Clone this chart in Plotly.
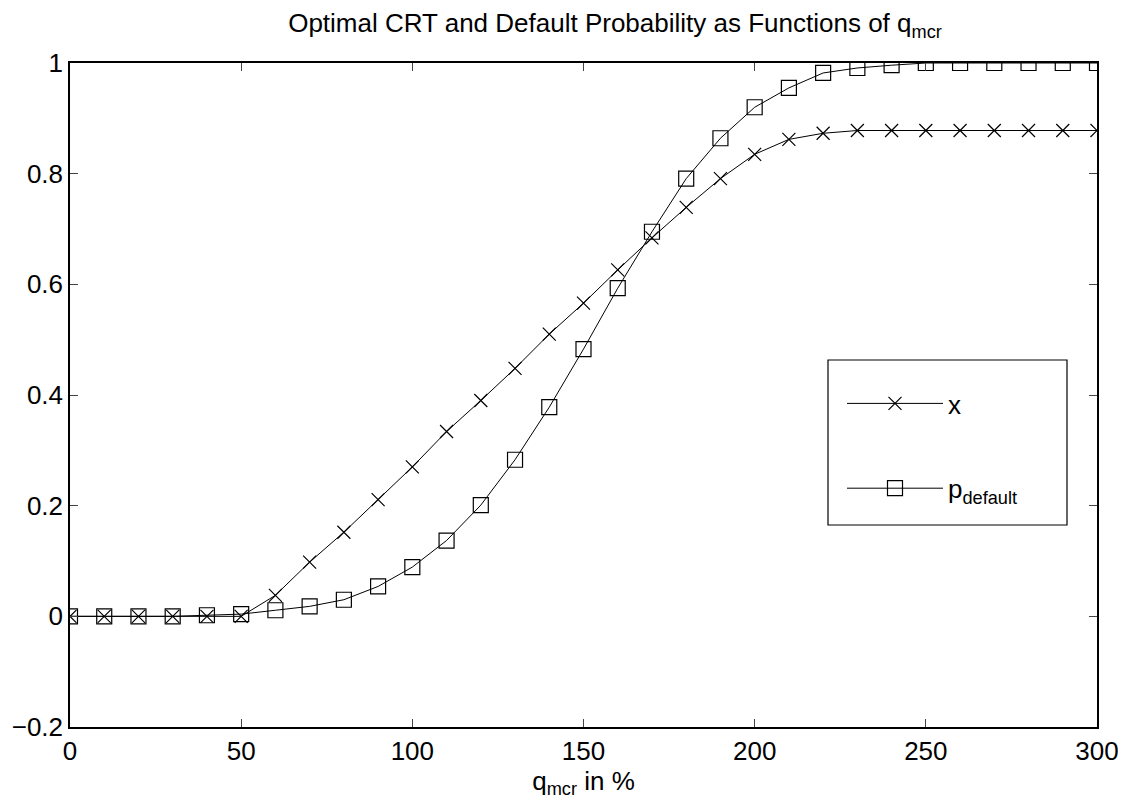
import plotly.graph_objects as go

q_mcr = [0, 10, 20, 30, 40, 50, 60, 70, 80, 90, 100, 110, 120, 130, 140, 150,
         160, 170, 180, 190, 200, 210, 220, 230, 240, 250, 260, 270, 280, 290, 300]
x_crt = [0, 0, 0, 0, 0, 0, 0.038, 0.098, 0.152, 0.211, 0.270, 0.334, 0.390, 0.448,
         0.510, 0.566, 0.626, 0.684, 0.739, 0.791, 0.835, 0.862, 0.873, 0.878, 0.878,
         0.878, 0.878, 0.878, 0.878, 0.878, 0.878]
p_default = [0, 0, 0, 0, 0.002, 0.004, 0.011, 0.018, 0.030, 0.054, 0.089, 0.137, 0.201,
             0.283, 0.378, 0.483, 0.593, 0.695, 0.791, 0.864, 0.920, 0.955, 0.982, 0.991,
             0.996, 1.0, 1.0, 1.0, 1.0, 1.0, 1.0]

x_ticks = [0, 50, 100, 150, 200, 250, 300]
y_ticks = [-0.2, 0, 0.2, 0.4, 0.6, 0.8, 1]
y_tick_text = ["\u22120.2", "0", "0.2", "0.4", "0.6", "0.8", "1"]

FONT = "Liberation Sans, Arial, Helvetica, sans-serif"

# figure is offset by the 8px default body margin of the page
W, H = 1118, 795
L, R, T, B = 62, 29, 55, 76
PW, PH = W - L - R, H - T - B


def px_x(px):
    return (px - 8 - L) / PW


def px_y(py):
    return (H - B - (py - 8)) / PH


fig = go.Figure()
fig.add_trace(go.Scatter(
    x=q_mcr, y=x_crt, mode="lines+markers", name="x", legendgroup="a",
    line=dict(color="black", width=1),
    marker=dict(symbol="x-thin-open", size=13, color="black",
                line=dict(color="black", width=1.2)),
))
fig.add_trace(go.Scatter(
    x=q_mcr, y=p_default, mode="lines+markers", name="p<sub>default</sub>", legendgroup="b",
    line=dict(color="black", width=1),
    marker=dict(symbol="square-open", size=15, color="black",
                line=dict(color="black", width=1.2)),
))

# legend frame
fig.add_shape(type="rect", xref="paper", yref="paper",
              x0=px_x(828), x1=px_x(1067), y0=px_y(525), y1=px_y(360),
              line=dict(color="black", width=1.2), fillcolor="white", layer="below")

fig.update_layout(
    width=W, height=H,
    margin=dict(l=L, r=R, t=T, b=B, autoexpand=False),
    paper_bgcolor="white", plot_bgcolor="white",
    font=dict(family=FONT, size=26, color="black"),
    title=dict(text="Optimal CRT and Default Probability as Functions of q<sub>mcr</sub>",
               x=(615 - 8) / W, xanchor="center",
               y=1 - (23 - 8) / H, yanchor="middle",
               font=dict(family=FONT, size=26, color="black")),
    showlegend=True,
    legend=dict(x=px_x(842), y=px_y(380), xanchor="left", yanchor="top",
                bgcolor="rgba(0,0,0,0)", borderwidth=0,
                font=dict(family=FONT, size=26, color="black"),
                tracegroupgap=48, itemwidth=96),
    xaxis=dict(range=[0, 300], tickvals=x_ticks, ticks="inside", ticklen=8,
               showline=True, linecolor="black", linewidth=1.5, mirror="ticks",
               showgrid=False, zeroline=False, automargin=False,
               tickfont=dict(family=FONT, size=26),
               title=dict(text="q<sub>mcr</sub> in %", font=dict(family=FONT, size=26), standoff=2)),
    yaxis=dict(range=[-0.2, 1], tickvals=y_ticks, ticktext=y_tick_text,
               ticks="inside", ticklen=8,
               showline=True, linecolor="black", linewidth=1.5, mirror="ticks",
               showgrid=False, zeroline=False, automargin=False,
               tickfont=dict(family=FONT, size=26)),
)

fig.write_html("out.html")
